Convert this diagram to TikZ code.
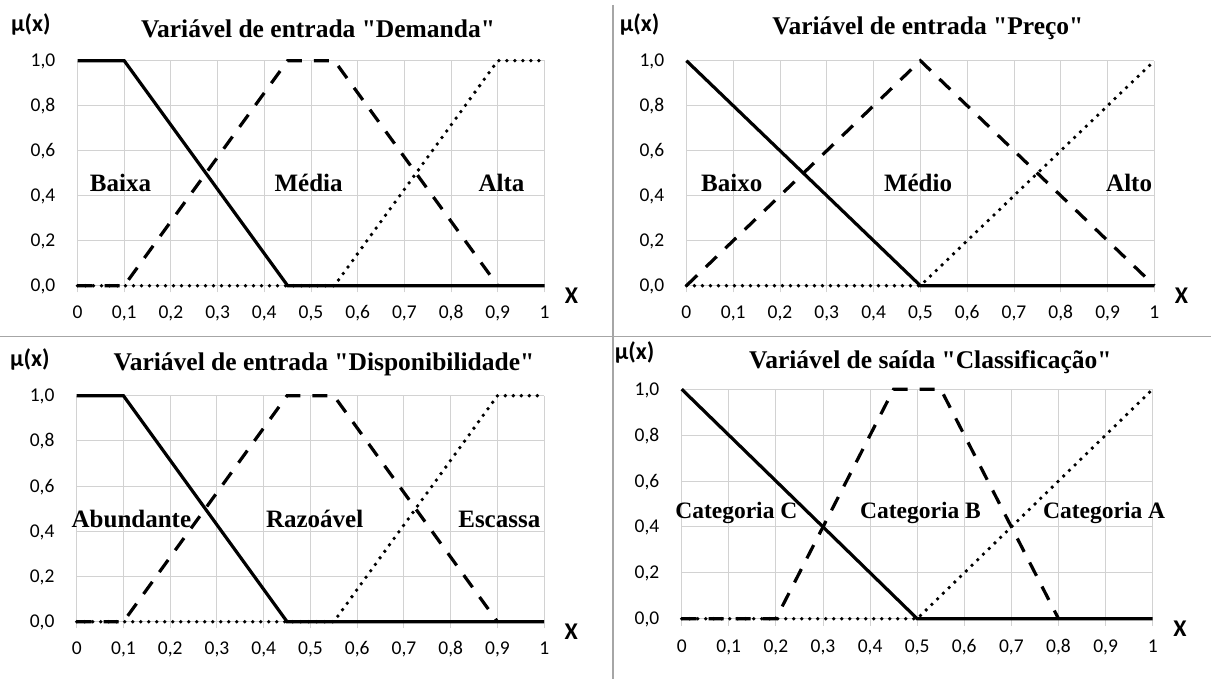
\documentclass[tikz,border=0pt]{standalone}
\usepackage{fontspec}
\setmainfont{Liberation Serif}
\setsansfont[Numbers=Lining]{Carlito}

\tikzset{
  grade/.style={gray!35, line width=1pt},
  divisoria/.style={gray!70, line width=1.6pt},
  cheia/.style={line width=3.2pt},
  tracejada/.style={line width=3.2pt, dash pattern=on 15pt off 12pt},
  pontilhada/.style={line width=3.8pt, line cap=round, dash pattern=on 0pt off 8pt},
  titulo/.style={font=\bfseries\fontsize{25.5}{28}\selectfont},
  termo/.style={font=\bfseries\fontsize{25}{27}\selectfont},
  escala/.style={font=\sffamily\fontsize{19.5}{22}\selectfont, text height=12pt, text depth=0pt},
  eixo/.style={font=\sffamily\bfseries\fontsize{24}{26}\selectfont}
}

% grade, escalas e rotulos dos eixos de um painel
\newcommand{\eixos}[1]{%
  \foreach \i in {0,...,10} \draw[grade] (\i/10,-0.03) -- (\i/10,1);
  \foreach \j in {0,...,5} \draw[grade] (0,\j/5) -- (1,\j/5);
  \foreach \t [count=\i from 0] in {0,{0,1},{0,2},{0,3},{0,4},{0,5},{0,6},{0,7},{0,8},{0,9},1}
    \node[escala] (#1-tx\i) at (\i/10,-0.12) {\t};
  \foreach \t [count=\j from 0] in {{0,0},{0,2},{0,4},{0,6},{0,8},{1,0}}
    \node[escala, anchor=east] (#1-ty\j) at (-0.04,\j/5) {\t};
  \node[eixo] (#1-mu) at (-0.1,1.16) {μ(x)};
  \node[eixo] (#1-x) at (1.058,-0.045) {X};
}

\begin{document}
\begin{tikzpicture}[x=1pt,y=-1pt]
    \fill[white] (0,0) rectangle (1211,679);
    \useasboundingbox (0,0) rectangle (1211,679);
    \draw[divisoria] (613,5) -- (613,679);
    \draw[divisoria] (0,336.5) -- (1211,336.5);

    % Demanda
    \begin{scope}[shift={(77.5,285.7)}, x=467pt, y=225pt]
      \eixos{dem}
      \node[titulo] (dem-tit) at (0.515,1.141) {Variável de entrada \textquotedbl Demanda\textquotedbl};
      \draw[pontilhada] (0,0) -- (0.55,0) -- (0.9,1) -- (1,1);
      \draw[tracejada] (0,0) -- (0.1,0) -- (0.45,1) -- (0.55,1) -- (0.9,0);
      \draw[cheia] (0,1) -- (0.1,1) -- (0.45,0) -- (1,0);
      \node[termo] (dem-baixa) at (0.092,0.458) {Baixa};
      \node[termo] (dem-media) at (0.495,0.458) {Média};
      \node[termo] (dem-alta) at (0.908,0.458) {Alta};
    \end{scope}

    % Preco
    \begin{scope}[shift={(686.4,285.7)}, x=468pt, y=225pt]
      \eixos{pre}
      \node[titulo] (pre-tit) at (0.516,1.143) {Variável de entrada \textquotedbl Preço\textquotedbl};
      \draw[pontilhada] (0,0) -- (0.5,0) -- (1,1);
      \draw[tracejada] (0,0) -- (0.5,1) -- (1,0);
      \draw[cheia] (0,1) -- (0.5,0) -- (1,0);
      \node[termo] (pre-baixo) at (0.097,0.455) {Baixo};
      \node[termo] (pre-medio) at (0.495,0.455) {Médio};
      \node[termo] (pre-alto) at (0.946,0.455) {Alto};
    \end{scope}

    % Disponibilidade
    \begin{scope}[shift={(76.7,621.7)}, x=467.5pt, y=226pt]
      \eixos{dis}
      \node[titulo] (dis-tit) at (0.529,1.14) {Variável de entrada \textquotedbl Disponibilidade\textquotedbl};
      \draw[pontilhada] (0,0) -- (0.55,0) -- (0.9,1) -- (1,1);
      \draw[tracejada] (0,0) -- (0.1,0) -- (0.45,1) -- (0.55,1) -- (0.9,0);
      \draw[cheia] (0,1) -- (0.1,1) -- (0.45,0) -- (1,0);
      \node[termo] (dis-abund) at (0.117,0.454) {Abundante};
      \node[termo] (dis-razo) at (0.509,0.454) {Razoável};
      \node[termo] (dis-esca) at (0.904,0.454) {Escassa};
    \end{scope}

    % Classificacao
    \begin{scope}[shift={(681.7,618.7)}, x=471pt, y=229.5pt]
      \eixos{cla}
      \node[titulo] (cla-tit) at (0.528,1.117) {Variável de saída \textquotedbl Classificação\textquotedbl};
      \draw[pontilhada] (0,0) -- (0.5,0) -- (1,1);
      \draw[tracejada] (0,0) -- (0.2,0) -- (0.45,1) -- (0.55,1) -- (0.8,0);
      \draw[cheia] (0,1) -- (0.5,0) -- (1,0);
      \node[termo, font=\bfseries\fontsize{23.5}{26}\selectfont] (cla-c) at (0.116,0.459) {Categoria C};
      \node[termo, font=\bfseries\fontsize{23.5}{26}\selectfont] (cla-b) at (0.507,0.459) {Categoria B};
      \node[termo, font=\bfseries\fontsize{23.5}{26}\selectfont] (cla-a) at (0.897,0.459) {Categoria A};
    \end{scope}
\end{tikzpicture}
\end{document}
